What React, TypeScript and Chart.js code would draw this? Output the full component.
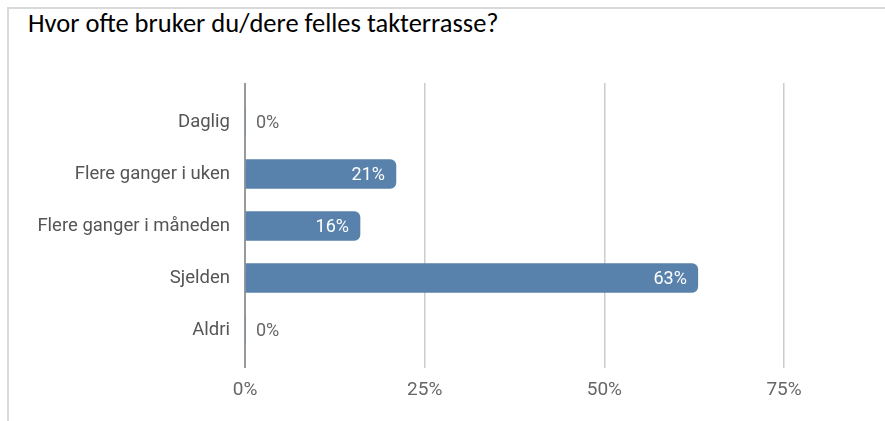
import React, { useEffect, useRef } from "react";
import { Chart, registerables } from "chart.js";

Chart.register(...registerables);

const TITLE = "Hvor ofte bruker du/dere felles takterrasse?";
const categories = ["Daglig", "Flere ganger i uken", "Flere ganger i måneden", "Sjelden", "Aldri"];
const values = [0, 21, 16, 63, 0];
const xTicks = [0, 25, 50, 75];

const BAR_COLOR = "#5882ac";
const FONT = "Roboto, 'Noto Sans', sans-serif";

const valueLabels = {
  id: "valueLabels",
  afterDatasetsDraw(chart: any) {
    const ctx = chart.ctx;
    const meta = chart.getDatasetMeta(0);
    ctx.save();
    ctx.font = `18px ${FONT}`;
    ctx.textBaseline = "middle";
    meta.data.forEach((el: any, i: number) => {
      const v = values[i];
      const text = `${v}%`;
      if (v > 0) {
        ctx.fillStyle = "#ffffff";
        ctx.textAlign = "right";
        ctx.fillText(text, el.x - 11, el.y + 1);
      } else {
        ctx.fillStyle = "#666666";
        ctx.textAlign = "left";
        ctx.fillText(text, el.x + 11, el.y + 1);
      }
    });
    ctx.restore();
  },
};

export default function App() {
  const ref = useRef<HTMLCanvasElement>(null);
  useEffect(() => {
    document.body.style.margin = "0";
    const chart = new Chart(ref.current!, {
      type: "bar",
      data: {
        datasets: [
          {
            data: values.map((v, i) => ({ x: v, y: i })),
            backgroundColor: BAR_COLOR,
            borderWidth: 0,
            borderRadius: 6,
            borderSkipped: "start",
            barThickness: 29,
          },
        ],
      },
      options: {
        indexAxis: "y",
        animation: false,
        responsive: false,
        maintainAspectRatio: false,
        layout: { padding: { top: 83, right: 65, bottom: 0, left: 0 } },
        plugins: {
          legend: { display: false },
          tooltip: { enabled: false },
          title: { display: false },
        },
        scales: {
          x: {
            type: "linear",
            min: 0,
            max: 80,
            afterBuildTicks: (s: any) => {
              s.ticks = xTicks.map((v) => ({ value: v }));
            },
            afterFit: (s: any) => {
              s.height = 53;
            },
            grid: {
              drawTicks: false,
              color: (c: any) => (c.tick && c.tick.value === 0 ? "#999999" : "#cccccc"),
              lineWidth: (c: any) => (c.tick && c.tick.value === 0 ? 2 : 1.5),
            },
            border: { display: false },
            ticks: {
              padding: 11,
              color: "#666666",
              font: { family: FONT, size: 19 },
              callback: (v: any) => `${v}%`,
            },
          },
          y: {
            type: "linear",
            offset: false,
            min: -0.75,
            max: 4.73,
            reverse: true,
            afterBuildTicks: (s: any) => {
              s.ticks = categories.map((_, i) => ({ value: i }));
            },
            afterFit: (s: any) => {
              s.width = 245;
            },
            grid: { display: false, drawTicks: false },
            border: { display: false },
            ticks: {
              padding: 15,
              color: "#555555",
              font: { family: FONT, size: 18.5 },
              callback: (v: any) => categories[v] ?? "",
            },
          },
        },
      },
      plugins: [valueLabels],
    });
    return () => chart.destroy();
  }, []);

  return (
    <div style={{ position: "relative", width: 885, height: 421, overflow: "hidden", background: "#fff" }}>
      <div
        style={{
          position: "absolute",
          left: 7,
          top: 7,
          width: 878,
          height: 414,
          borderTop: "2px solid #d9d9d9",
          borderLeft: "2px solid #d9d9d9",
          boxSizing: "border-box",
        }}
      />
      <div
        style={{
          position: "absolute",
          left: 28,
          top: 7,
          fontFamily: "Carlito, 'Noto Sans', sans-serif",
          fontSize: 26.5,
          color: "#000",
          whiteSpace: "nowrap",
          lineHeight: "32px",
        }}
      >
        {TITLE}
      </div>
      <canvas ref={ref} width={885} height={421} style={{ position: "absolute", left: 0, top: 0 }} />
    </div>
  );
}
